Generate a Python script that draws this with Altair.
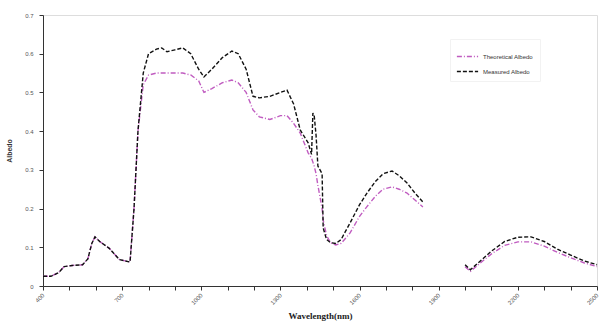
import altair as alt
import pandas as pd

# Segment 1 (400-1840 nm)
wl1 = [400, 430, 460, 480, 510, 550, 570, 585, 597, 615, 650, 690, 730, 745, 760, 780, 800, 830, 850, 870,
       900, 930, 960, 990, 1010, 1040, 1080, 1116, 1140, 1170, 1196, 1220, 1260, 1300, 1325, 1350, 1375,
       1405, 1418, 1423, 1428, 1435, 1442, 1458, 1462, 1475, 1490, 1510, 1530, 1564, 1600, 1628, 1660,
       1689, 1723, 1750, 1780, 1810, 1840]
measured1 = [0.025, 0.025, 0.035, 0.05, 0.053, 0.055, 0.07, 0.11, 0.127, 0.115, 0.098, 0.068, 0.062, 0.2,
             0.4, 0.55, 0.6, 0.612, 0.615, 0.605, 0.61, 0.615, 0.6, 0.56, 0.54, 0.56, 0.59, 0.607, 0.6, 0.56,
             0.49, 0.486, 0.49, 0.5, 0.506, 0.47, 0.403, 0.37, 0.34, 0.447, 0.44, 0.39, 0.31, 0.29, 0.15,
             0.12, 0.112, 0.11, 0.12, 0.163, 0.21, 0.24, 0.27, 0.29, 0.297, 0.285, 0.266, 0.24, 0.217]
theoretical1 = [0.025, 0.025, 0.035, 0.05, 0.053, 0.055, 0.07, 0.11, 0.127, 0.115, 0.098, 0.068, 0.062, 0.2,
                0.4, 0.52, 0.545, 0.55, 0.55, 0.55, 0.55, 0.55, 0.545, 0.53, 0.5, 0.51, 0.525, 0.532, 0.525,
                0.5, 0.455, 0.437, 0.43, 0.44, 0.44, 0.42, 0.395, 0.344, 0.33, 0.32, 0.31, 0.29, 0.26, 0.2,
                0.17, 0.13, 0.112, 0.106, 0.11, 0.137, 0.18, 0.205, 0.232, 0.25, 0.256, 0.25, 0.24, 0.222, 0.204]

# Segment 2 (2000-2500 nm)
wl2 = [2000, 2020, 2050, 2100, 2150, 2200, 2250, 2300, 2350, 2400, 2450, 2500]
measured2 = [0.055, 0.042, 0.06, 0.09, 0.115, 0.126, 0.127, 0.115, 0.095, 0.08, 0.065, 0.055]
theoretical2 = [0.05, 0.038, 0.055, 0.083, 0.105, 0.114, 0.114, 0.103, 0.087, 0.073, 0.06, 0.05]

series_names = ["Theoretical Albedo", "Measured Albedo"]
x_ticks = list(range(400, 2501, 100))
y_ticks = [0, 0.1, 0.2, 0.3, 0.4, 0.5, 0.6, 0.7]

rows = []
for w, m, t in zip(wl1, measured1, theoretical1):
    rows.append({"wl": w, "val": t, "series": series_names[0], "seg": "a"})
    rows.append({"wl": w, "val": m, "series": series_names[1], "seg": "a"})
for w, m, t in zip(wl2, measured2, theoretical2):
    rows.append({"wl": w, "val": t, "series": series_names[0], "seg": "b"})
    rows.append({"wl": w, "val": m, "series": series_names[1], "seg": "b"})
df = pd.DataFrame(rows)

chart = alt.Chart(df).mark_line(strokeWidth=1.4).encode(
    x=alt.X("wl:Q", scale=alt.Scale(domain=[400, 2500], nice=False),
            axis=alt.Axis(title="Wavelength(nm)", values=x_ticks,
                          labelExpr="(datum.value - 400) % 300 == 0 ? datum.value : ''",
                          labelAngle=315, labelAlign="right", labelBaseline="middle",
                          labelFontSize=6, labelColor="#555", tickSize=4, tickColor="#333",
                          domainColor="#333", grid=False, titleFont="Liberation Serif",
                          titleFontSize=9, titleFontWeight="bold", titleColor="#222",
                          titlePadding=6, labelPadding=4, labelOverlap=False, labelFlush=False)),
    y=alt.Y("val:Q", scale=alt.Scale(domain=[0, 0.7], nice=False),
            axis=alt.Axis(title="Albedo", values=y_ticks, format="~g",
                          labelFontSize=6, labelColor="#555", tickSize=4, tickColor="#333",
                          domainColor="#333", grid=False, titleFontSize=7, titleColor="#333",
                          titlePadding=12, labelPadding=6)),
    color=alt.Color("series:N",
                    scale=alt.Scale(domain=series_names, range=["#c05cc0", "#111111"]),
                    legend=alt.Legend(title=None, orient="none", legendX=407, legendY=24,
                                      symbolType="stroke", symbolSize=450, symbolStrokeWidth=1.4,
                                      labelFontSize=6, labelColor="#333", rowPadding=0,
                                      padding=6, strokeColor="#f2f2f2")),
    strokeDash=alt.StrokeDash("series:N",
                              scale=alt.Scale(domain=series_names, range=[[5, 2, 1, 2], [4, 2]]),
                              legend=None),
    detail="seg:N",
).properties(
    width=554, height=271,
    autosize="none",
    padding={"left": 43, "top": 15, "right": 15, "bottom": 41},
).configure_view(stroke=None).configure(background="white")

chart.save("out.html", embed_options={"renderer": "svg", "actions": False})
